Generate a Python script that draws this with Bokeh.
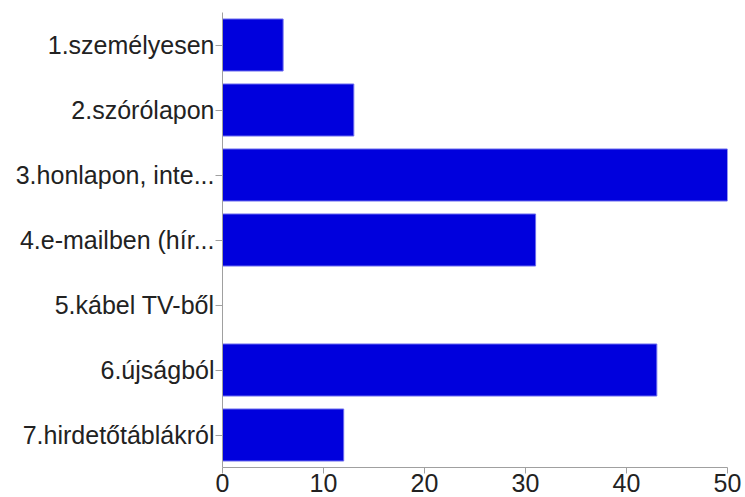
from bokeh.plotting import figure
from bokeh.models import Range1d, FactorRange, ColumnDataSource
from bokeh.embed import file_html
from bokeh.resources import INLINE

categories = ["1.személyesen", "2.szórólapon", "3.honlapon, inte...", "4.e-mailben (hír...",
              "5.kábel TV-ből", "6.újságból", "7.hirdetőtáblákról"]
counts = [6, 13, 50, 31, 0, 43, 12]
x_ticks = [0, 10, 20, 30, 40, 50]

src = ColumnDataSource(dict(cat=categories, val=counts))

p = figure(width=745, height=497, output_backend="svg", toolbar_location=None,
           y_range=FactorRange(*categories[::-1], range_padding=0),
           x_range=Range1d(0, 50),
           min_border_left=222, min_border_right=18, min_border_top=12, min_border_bottom=30)

p.hbar(y="cat", right="val", left=0, height=0.8, source=src,
       fill_color="#0000dd", line_color="#6a6aee", line_width=1)

p.outline_line_color = None
p.grid.grid_line_color = None

p.xaxis.ticker = x_ticks
p.xaxis.axis_line_color = "#a0a0a0"
p.xaxis.major_tick_line_color = "#a0a0a0"
p.xaxis.major_tick_out = 6
p.xaxis.major_tick_in = 0
p.xaxis.minor_tick_line_color = None
p.xaxis.major_label_text_font = "Liberation Sans"
p.xaxis.major_label_text_font_size = "25px"
p.xaxis.major_label_text_color = "#222222"
p.xaxis.major_label_standoff = 0

p.yaxis.axis_line_color = "#a0a0a0"
p.yaxis.major_tick_line_color = "#a0a0a0"
p.yaxis.major_tick_out = 7
p.yaxis.major_tick_in = 0
p.yaxis.major_label_text_font = "Liberation Sans"
p.yaxis.major_label_text_font_size = "25px"
p.yaxis.major_label_text_color = "#222222"
p.yaxis.major_label_standoff = 1

open("out.html", "w").write(file_html(p, INLINE))
